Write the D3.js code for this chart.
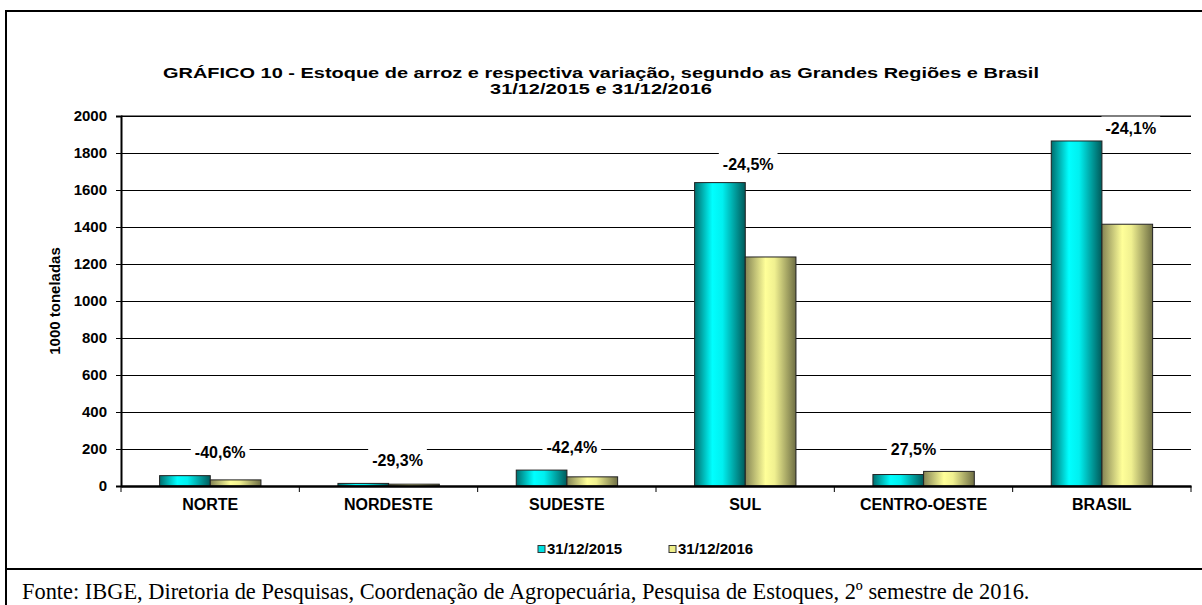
<!DOCTYPE html>
<html>
<head>
<meta charset="utf-8">
<script src="https://cdn.jsdelivr.net/npm/d3@7"></script>
<style>
  body { margin: 0; background: #fff; }
  svg text { font-family: "Liberation Sans", Arial, sans-serif; }
</style>
</head>
<body>
<div id="chart"></div>
<script>
// dados (1000 toneladas)
const categorias = ["NORTE", "NORDESTE", "SUDESTE", "SUL", "CENTRO-OESTE", "BRASIL"];
const estoque2015 = [56, 14, 86, 1640, 62, 1865];
const estoque2016 = [33, 9.9, 49.5, 1238, 79, 1415];
const variacao = ["-40,6%", "-29,3%", "-42,4%", "-24,5%", "27,5%", "-24,1%"];
const series = ["31/12/2015", "31/12/2016"];
const yTicks = [0, 200, 400, 600, 800, 1000, 1200, 1400, 1600, 1800, 2000];
const tituloLinhas = [
  "GRÁFICO 10 - Estoque de arroz e respectiva variação, segundo as Grandes Regiões e Brasil",
  "31/12/2015 e 31/12/2016"
];

// deslocamento manual dos rotulos de variacao (como no Excel)
const labelShift = [[10, -23], [9, -23], [5, -23], [3, -18], [-10, -22], [29, -13]];

const W = 1202, H = 605;
const pLeft = 121, pRight = 1191, pTop = 116, pBottom = 486;

const svg = d3.select("#chart").append("svg")
  .attr("width", W)
  .attr("height", H);

// gradientes das barras
const defs = svg.append("defs");
function gradiente(id, stops) {
  const g = defs.append("linearGradient")
    .attr("id", id)
    .attr("x1", "0%").attr("x2", "100%")
    .attr("y1", "0%").attr("y2", "0%");
  stops.forEach(function (s) {
    g.append("stop").attr("offset", s[0]).attr("stop-color", s[1]);
  });
}
gradiente("g2015", [["0%", "#006d6d"], ["35%", "#00ffff"], ["55%", "#00f0f0"], ["100%", "#005a5a"]]);
gradiente("g2016", [["0%", "#858555"], ["40%", "#ffff99"], ["58%", "#f0f090"], ["100%", "#6e6e44"]]);
const cores = ["url(#g2015)", "url(#g2016)"];
const coresLegenda = ["#00e0e0", "#eeee88"];

// moldura
svg.append("rect")
  .attr("x", 6).attr("y", 11)
  .attr("width", 1200).attr("height", 610)
  .attr("fill", "none")
  .attr("stroke", "#000")
  .attr("stroke-width", 2);
svg.append("line")
  .attr("x1", 6).attr("x2", W)
  .attr("y1", 569).attr("y2", 569)
  .attr("stroke", "#000")
  .attr("stroke-width", 2);

// titulo (o original esta esticado na horizontal)
const esticar = 1.33;
svg.selectAll("text.titulo")
  .data(tituloLinhas)
  .enter().append("text")
  .attr("class", "titulo")
  .attr("x", 601)
  .attr("y", function (d, i) { return 78 + i * 16; })
  .attr("text-anchor", "middle")
  .style("font-weight", "bold")
  .style("font-size", "15px")
  .text(function (d) { return d; })
  .each(function () {
    const len = this.getComputedTextLength();
    d3.select(this)
      .attr("textLength", len * esticar)
      .attr("lengthAdjust", "spacingAndGlyphs");
  });

const x0 = d3.scaleBand()
  .domain(categorias)
  .range([pLeft, pRight])
  .padding(0);
const bw = x0.bandwidth();
const x1 = d3.scaleBand()
  .domain(series)
  .range([0.2164 * bw, 0.7848 * bw])
  .padding(0);
const y = d3.scaleLinear()
  .domain([0, 2000])
  .range([pBottom, pTop]);

// grade
svg.append("g")
  .attr("transform", "translate(" + pLeft + ",0)")
  .call(d3.axisLeft(y).tickValues(yTicks.filter(function (d) { return d > 0; }))
    .tickSize(-(pRight - pLeft)).tickFormat(""))
  .call(function (g) { g.select(".domain").remove(); })
  .selectAll("line")
  .attr("stroke", "#000")
  .attr("stroke-width", 1);

// eixo y
const eixoY = svg.append("g")
  .attr("transform", "translate(" + pLeft + ",0)")
  .call(d3.axisLeft(y).tickValues(yTicks).tickFormat(d3.format("d")).tickSize(5).tickPadding(9));
eixoY.select(".domain").attr("stroke", "#000").attr("stroke-width", 2);
eixoY.selectAll("line").attr("stroke", "#000");
eixoY.selectAll("text")
  .style("font-family", "Liberation Sans, Arial, sans-serif")
  .style("font-weight", "bold")
  .style("font-size", "15px")
  .attr("fill", "#000");

svg.append("text")
  .attr("transform", "translate(55," + ((pTop + pBottom) / 2) + ")rotate(-90)")
  .attr("text-anchor", "middle")
  .attr("dy", "0.35em")
  .style("font-weight", "bold")
  .style("font-size", "15px")
  .text("1000 toneladas");

// barras
const linhas = categorias.map(function (c, i) {
  return { cat: c, vals: [estoque2015[i], estoque2016[i]] };
});
const grupo = svg.append("g").selectAll("g")
  .data(linhas)
  .enter().append("g")
  .attr("transform", function (d) { return "translate(" + x0(d.cat) + ",0)"; });
grupo.selectAll("rect")
  .data(function (d) { return d.vals.map(function (v, k) { return { s: series[k], v: v, k: k }; }); })
  .enter().append("rect")
  .attr("x", function (d) { return x1(d.s); })
  .attr("y", function (d) { return y(d.v); })
  .attr("width", x1.bandwidth())
  .attr("height", function (d) { return pBottom - y(d.v); })
  .attr("fill", function (d) { return cores[d.k]; })
  .attr("stroke", "#222")
  .attr("stroke-width", 1);

// eixo x
const eixoX = svg.append("g")
  .attr("transform", "translate(0," + pBottom + ")")
  .call(d3.axisBottom(x0).tickSize(0).tickPadding(13));
eixoX.select(".domain").attr("stroke", "#000").attr("stroke-width", 2.5);
eixoX.selectAll("text")
  .style("font-family", "Liberation Sans, Arial, sans-serif")
  .style("font-weight", "bold")
  .style("font-size", "16px")
  .attr("fill", "#000");
svg.append("g").selectAll("line")
  .data(categorias.concat(["fim"]))
  .enter().append("line")
  .attr("x1", function (d) { return d === "fim" ? pRight : x0(d); })
  .attr("x2", function (d) { return d === "fim" ? pRight : x0(d); })
  .attr("y1", pBottom)
  .attr("y2", pBottom + 6)
  .attr("stroke", "#000");

// rotulos de variacao
const rot = svg.append("g").selectAll("g")
  .data(linhas)
  .enter().append("g")
  .attr("transform", function (d, i) {
    const cx = x0(d.cat) + bw / 2 + labelShift[i][0];
    const cy = y(d3.max(d.vals)) + labelShift[i][1];
    return "translate(" + cx + "," + cy + ")";
  });
rot.append("text")
  .attr("text-anchor", "middle")
  .attr("dy", "0.35em")
  .style("font-weight", "bold")
  .style("font-size", "16px")
  .text(function (d, i) { return variacao[i]; });
rot.each(function () {
  const g = d3.select(this);
  const b = g.select("text").node().getBBox();
  g.insert("rect", "text")
    .attr("x", b.x - 4).attr("y", b.y - 6)
    .attr("width", b.width + 8).attr("height", b.height + 8)
    .attr("fill", "#fff");
});
// linha do topo por cima dos rotulos
svg.append("line")
  .attr("x1", pLeft).attr("x2", pRight)
  .attr("y1", y(2000)).attr("y2", y(2000))
  .attr("stroke", "#000");

// legenda
const leg = svg.append("g").selectAll("g")
  .data(series)
  .enter().append("g")
  .attr("transform", function (d, i) { return "translate(" + (538 + i * 131) + ",549)"; });
leg.append("rect")
  .attr("x", 0).attr("y", -3.5)
  .attr("width", 7).attr("height", 7)
  .attr("fill", function (d, i) { return coresLegenda[i]; })
  .attr("stroke", "#333");
leg.append("text")
  .attr("x", 9)
  .attr("dy", "0.35em")
  .style("font-weight", "bold")
  .style("font-size", "15px")
  .text(function (d) { return d; });

// fonte
svg.append("text")
  .attr("x", 22)
  .attr("y", 599)
  .style("font-family", "Liberation Serif, Times New Roman, serif")
  .style("font-size", "22.4px")
  .text("Fonte: IBGE, Diretoria de Pesquisas, Coordenação de Agropecuária, Pesquisa de Estoques, 2º semestre de 2016.");
</script>
</body>
</html>
